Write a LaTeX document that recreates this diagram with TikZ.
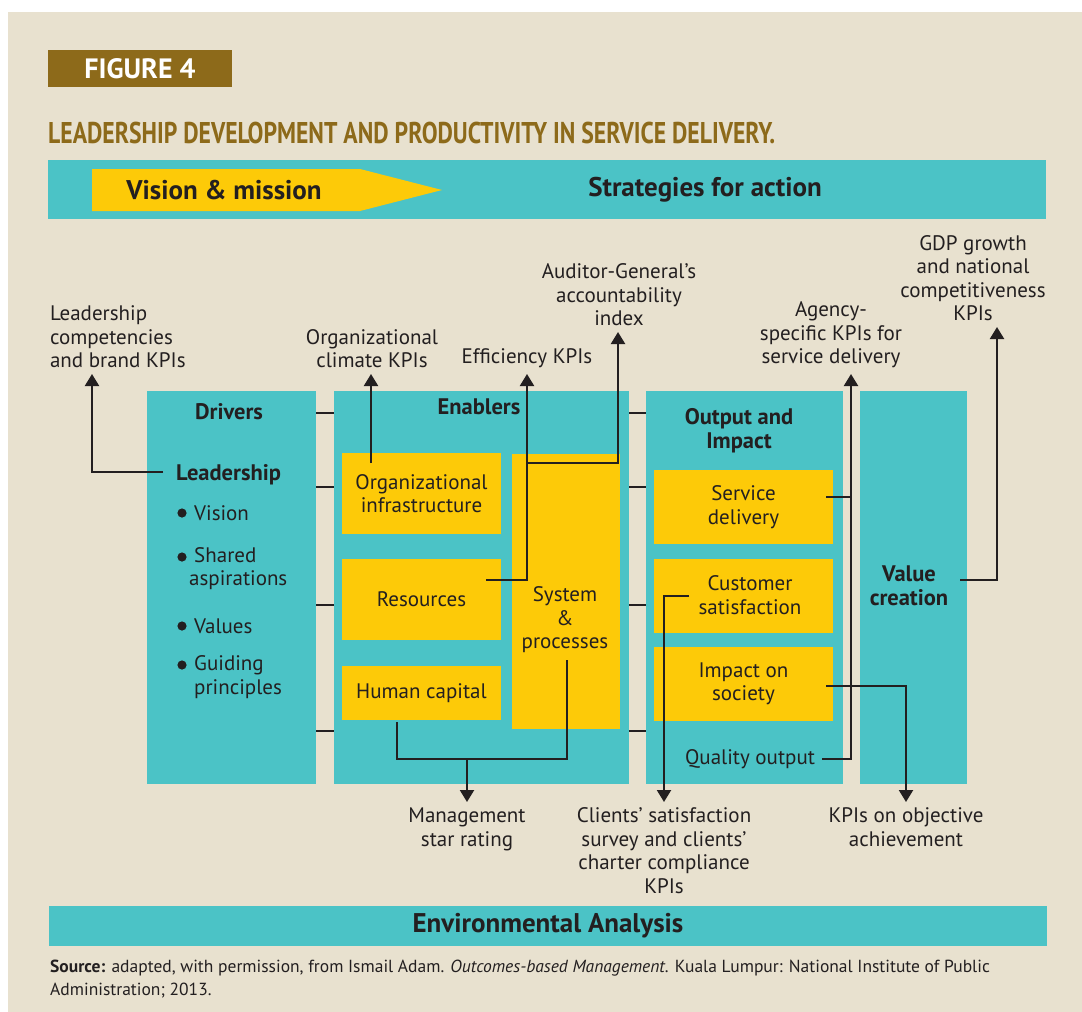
\documentclass[tikz,border=0pt]{standalone}
\usepackage{fontspec}
\setmainfont{PT Sans}
\newfontfamily\narrowfont[FakeStretch=0.79]{PT Sans}
\usetikzlibrary{arrows.meta}

\definecolor{paper}{HTML}{E8E1CF}
\definecolor{colteal}{HTML}{4BC3C6}
\definecolor{gold}{HTML}{FDCA08}
\definecolor{figbrown}{HTML}{8D6A1A}
\definecolor{ink}{HTML}{231F20}

\begin{document}
\begin{tikzpicture}[x=1pt,y=-1pt,
  every node/.style={inner sep=0pt, text=ink},
  txt/.style={font=\fontsize{21}{23.5}\selectfont, align=center},
  head/.style={font=\fontsize{22.5}{24.5}\selectfont\bfseries, align=center},
  bighead/.style={font=\fontsize{27}{28}\selectfont\bfseries},
  pillar/.style={fill=colteal, minimum width=#1, minimum height=393},
  ybox/.style={txt, fill=gold, minimum width=159, minimum height=#1},
  kpi/.style={txt, outer sep=6pt},
  link/.style={draw=ink, line width=2.2pt},
  toarrow/.style={link, -{Triangle[width=14pt,length=12pt]}}
  ]
  \fill[white] (0,0) rectangle (1082,1012);
  \fill[paper] (8,12) rectangle (1082,1012);
  \useasboundingbox (0,0) rectangle (1082,1012);

  % header
  \node[fill=figbrown, minimum width=184, minimum height=37, text=white,
    font=\fontsize{28}{28}\selectfont\bfseries] (fig) at (140,68.5) {FIGURE 4};
  \node[anchor=base west, text=figbrown, font=\narrowfont\fontsize{30}{30}\selectfont\bfseries]
    (title) at (48,143) {LEADERSHIP DEVELOPMENT AND PRODUCTIVITY IN SERVICE DELIVERY.};
  \node[fill=colteal, minimum width=998, minimum height=59] (topbar) at (547,189.5) {};
  \fill[gold] (92,169) -- (360,169) -- (442,190) -- (360,211) -- (92,211) -- cycle;
  \node[bighead] (vision) at (224,190) {Vision \& mission};
  \node[bighead] (strat) at (705,190) {Strategies for action};

  % columns
  \node[pillar=169] (drv) at (231.5,587.5) {};
  \node[pillar=295] (enb) at (481.5,587.5) {};
  \node[pillar=197] (out) at (744.5,587.5) {};
  \node[pillar=107] (val) at (913.5,587.5) {};
  \foreach \yy in {413,487,605,731} {
    \draw[link] (drv.east |- 0,\yy) -- (enb.west |- 0,\yy);
    \draw[link] (enb.east |- 0,\yy) -- (out.west |- 0,\yy);
  }

  % drivers
  \node[head] (drvhead) at (229,412) {Drivers};
  \node[head, anchor=west] (lead) at (176,475) {Leadership};
  \foreach \yy in {513,557,626,665}
    \fill[ink] (182,\yy) circle[radius=4.6];
  \node[txt, anchor=west, align=left] (vis) at (194,513) {Vision};
  \node[txt, anchor=west, align=left] (shr) at (189,568.5) {\hspace*{5pt}Shared\\aspirations};
  \node[txt, anchor=west, align=left] (vals) at (194,626) {Values};
  \node[txt, anchor=west, align=left] (gdn) at (194,677) {Guiding\\principles};

  % enablers
  \node[head] (enbhead) at (479,407) {Enablers};
  \node[ybox=81] (orginf) at (421.5,493.5) {Organizational\\infrastructure};
  \node[ybox=81] (res) at (421.5,599.5) {Resources};
  \node[ybox=54] (hum) at (421.5,693) {Human capital};
  \node[fill=gold, minimum width=108, minimum height=275] (sys) at (566,591.5) {};
  \node[txt] (systxt) at (565,620) {System\\\&\\processes};

  % output and impact
  \node[head] (outhead) at (739,430.5) {Output and\\Impact};
  \node[ybox=74, minimum width=179] (svc) at (743.5,507) {Service\\delivery};
  \node[fill=gold, minimum width=179, minimum height=74] (cust) at (743.5,596) {};
  \node[txt] (custtxt) at (750,595) {Customer\\satisfaction};
  \node[ybox=74, minimum width=179] (imp) at (743.5,684) {Impact on\\society};
  \node[txt] (qual) at (750,759) {Quality output};
  \node[head] (valhead) at (909,586) {Value\\creation};

  % kpis
  \node[kpi, anchor=south west, align=left] (ldrkpi) at (44,374) {Leadership\\competencies\\and brand KPIs};
  \node[kpi, anchor=south] (climkpi) at (372,374) {Organizational\\climate KPIs};
  \node[kpi, anchor=south] (effkpi) at (527,374) {Efficiency KPIs};
  \node[kpi, anchor=south] (audkpi) at (619,332) {Auditor-General’s\\accountability\\index};
  \node[kpi, anchor=south] (agykpi) at (831,374) {Agency-\\specific KPIs for\\service delivery};
  \node[kpi, anchor=south] (gdpkpi) at (973,327) {GDP growth\\and national\\competitiveness\\KPIs};
  \node[kpi, anchor=north] (mgmtkpi) at (467,802) {Management\\star rating};
  \node[kpi, anchor=north] (cltkpi) at (664,802) {Clients’ satisfaction\\survey and clients’\\charter compliance\\KPIs};
  \node[kpi, anchor=north] (objkpi) at (906,802) {KPIs on objective\\achievement};

  % connectors
  \coordinate (ldrout) at (163,472);
  \coordinate (ldrturn) at (92,472);
  \coordinate (orgout) at (371,463);
  \coordinate (resout) at (486,580);
  \coordinate (sysjoin) at (527,463);
  \coordinate (humout) at (397,722);
  \coordinate (sysout) at (567,660);
  \coordinate (mgmtjoin) at (467,759);
  \coordinate (svcout) at (826,497);
  \coordinate (qualout) at (822,759);
  \coordinate (qualturn) at (851,759);
  \coordinate (custout) at (689,596);
  \coordinate (impout) at (826,686);
  \coordinate (valout) at (960,580);
  \coordinate (valturn) at (997,580);

  \draw[toarrow] (ldrout) -- (ldrturn) -- (ldrturn |- ldrkpi.south);
  \draw[toarrow] (orgout) -- (orgout |- climkpi.south);
  \draw[toarrow] (resout) -| (effkpi.south);
  \draw[toarrow] (sysjoin) -| (audkpi.south -| 618,0);
  \draw[link] (humout) |- (mgmtjoin) -| (sysout);
  \draw[toarrow] (mgmtjoin) -- (mgmtkpi.north);
  \draw[link] (svcout) -- (svcout -| qualturn);
  \draw[toarrow] (qualout) -- (qualturn) -- (qualturn |- agykpi.south);
  \draw[toarrow] (custout) -| (cltkpi.north);
  \draw[toarrow] (impout) -| (objkpi.north);
  \draw[toarrow] (valout) -- (valturn) -- (valturn |- gdpkpi.south);

  % footer
  \node[fill=colteal, minimum width=998, minimum height=40,
    font=\fontsize{27}{27}\selectfont\bfseries] (envbar) at (548,926) {Environmental Analysis};
  \node[anchor=north west, align=left, font=\fontsize{17.5}{23}\selectfont] (src) at (50,960)
    {\textbf{Source:} adapted, with permission, from Ismail Adam. \textit{Outcomes-based Management}. Kuala Lumpur: National Institute of Public\\Administration; 2013.};
\end{tikzpicture}
\end{document}
